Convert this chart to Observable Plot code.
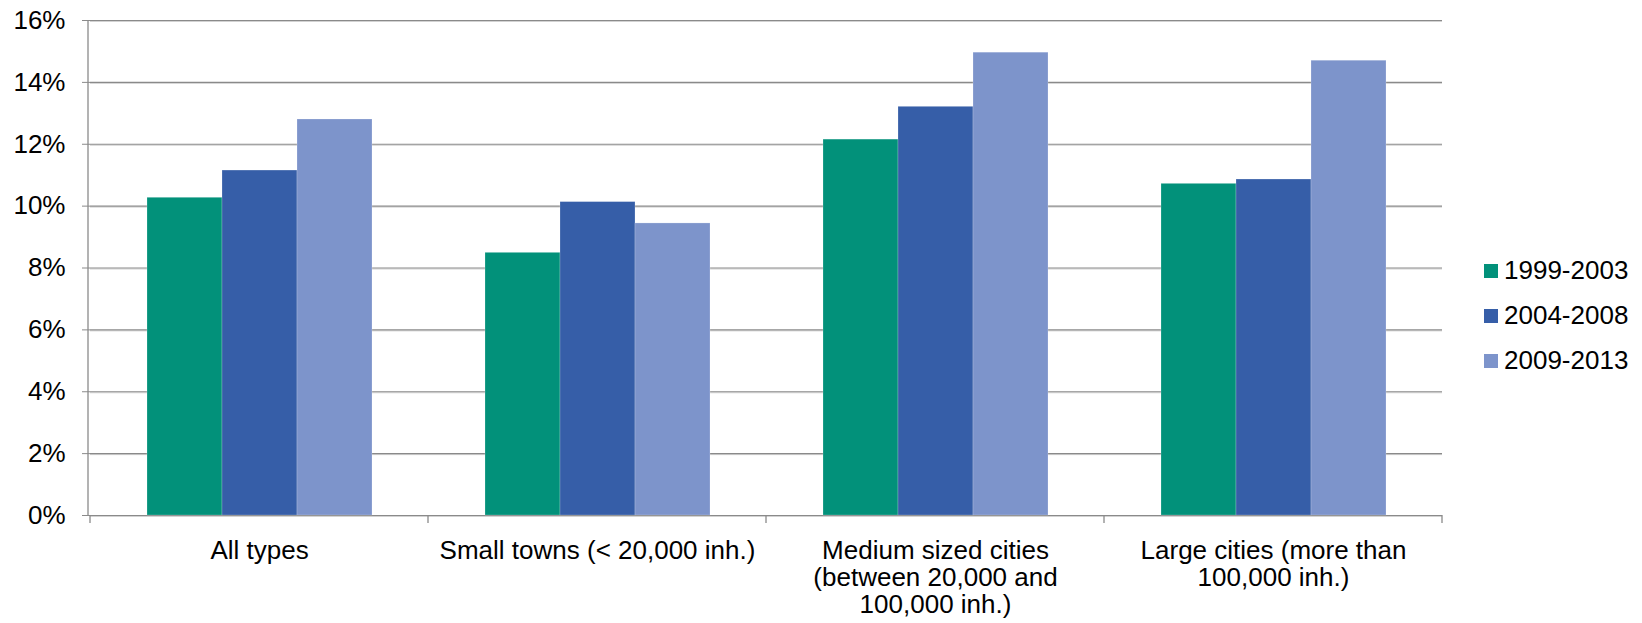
<!DOCTYPE html>
<html>
<head>
<meta charset="utf-8">
<script src="https://cdn.jsdelivr.net/npm/d3@7"></script>
<script src="https://cdn.jsdelivr.net/npm/@observablehq/plot@0.6"></script>
<style>
  html, body { margin: 0; padding: 0; background: #fff; }
  #wrap { position: relative; width: 1642px; height: 623px; font-family: "Liberation Sans", Arial, sans-serif; }
  #legend { position: absolute; left: 1484px; top: 248px; display: flex; flex-direction: column; }
  #legend .row { display: flex; align-items: center; height: 45px; font-size: 26px; color: #000; }
  #legend .sw { width: 14px; height: 14px; margin-right: 6px; }
</style>
</head>
<body>
<div id="wrap"></div>
<script>
// ---- data ----
const categories = [
  "All types",
  "Small towns (< 20,000 inh.)",
  "Medium sized cities (between 20,000 and 100,000 inh.)",
  "Large cities (more than 100,000 inh.)"
];
const categoryLabels = [
  "All types",
  "Small towns (< 20,000 inh.)",
  "Medium sized cities\n(between 20,000 and\n100,000 inh.)",
  "Large cities (more than\n100,000 inh.)"
];
const periods = ["1999-2003", "2004-2008", "2009-2013"];
const values1999_2003 = [10.27, 8.49, 12.15, 10.72];
const values2004_2008 = [11.15, 10.13, 13.21, 10.86];
const values2009_2013 = [12.80, 9.44, 14.96, 14.70];
const periodColors = ["#02917a", "#365ea8", "#7d94cb"];
const yTicks = [0, 2, 4, 6, 8, 10, 12, 14, 16];

// ---- long table built from the arrays ----
const series = [values1999_2003, values2004_2008, values2009_2013];
const rows = categories.flatMap((c, i) =>
  periods.map((p, j) => ({category: c, period: p, value: series[j][i]}))
);
const labelOf = new Map(categories.map((c, i) => [c, categoryLabels[i]]));

const plot = Plot.plot({
  width: 1642,
  height: 623,
  marginTop: 20,
  marginBottom: 108,
  marginLeft: 88,
  marginRight: 199,
  style: {fontFamily: "'Liberation Sans', Arial, sans-serif", fontSize: "26px", color: "#000", background: "#fff"},
  fx: {domain: categories, padding: 0, axis: null, label: null},
  x: {domain: periods, paddingInner: 0, paddingOuter: 0.75, axis: null, label: null},
  y: {domain: [0, 16], axis: null, label: null},
  color: {domain: periods, range: periodColors},
  marks: [
    Plot.gridY(yTicks, {stroke: "#d2d2d2", strokeOpacity: 1, strokeWidth: 1, dy: 1}),
    Plot.gridY(yTicks, {stroke: "#8a8a8a", strokeOpacity: 1, strokeWidth: 1.2}),
    Plot.barY(rows, {fx: "category", x: "period", y: "value", fill: "period", stroke: "#ffffff", strokeOpacity: 0.35, strokeWidth: 0.6}),
    Plot.axisY({ticks: yTicks, tickSize: 8, tickPadding: 17, tickFormat: d => `${d}%`, stroke: "#8a8a8a", fill: "#000", label: null}),
    Plot.axisFx({anchor: "bottom", tickSize: 0, tickPadding: 24, tickFormat: d => labelOf.get(d), lineHeight: 1.04, fill: "#000", label: null})
  ]
});

// axis line and category boundary ticks, from the plot's own scales
const fx = plot.scale("fx");
const y = plot.scale("y");
const svg = d3.select(plot.tagName === "svg" ? plot : plot.querySelector("svg"));
const x0 = fx.range[0];
const bounds = categories.map(c => fx.apply(c)).concat([fx.apply(categories[categories.length - 1]) + fx.bandwidth]);
const g = svg.append("g").attr("stroke", "#8a8a8a").attr("stroke-width", 1.3);
g.append("line")
  .attr("x1", x0).attr("x2", x0)
  .attr("y1", y.apply(16)).attr("y2", y.apply(0));
g.selectAll("line.b").data(bounds).join("line").attr("class", "b")
  .attr("x1", d => d).attr("x2", d => d)
  .attr("y1", y.apply(0)).attr("y2", y.apply(0) + 8);

const wrap = document.getElementById("wrap");
wrap.appendChild(plot);

// legend
const color = plot.scale("color");
const legend = d3.select(wrap).append("div").attr("id", "legend");
const row = legend.selectAll("div.row").data(periods).join("div").attr("class", "row");
row.append("div").attr("class", "sw").style("background", d => color.apply(d));
row.append("span").text(d => d);
</script>
</body>
</html>
